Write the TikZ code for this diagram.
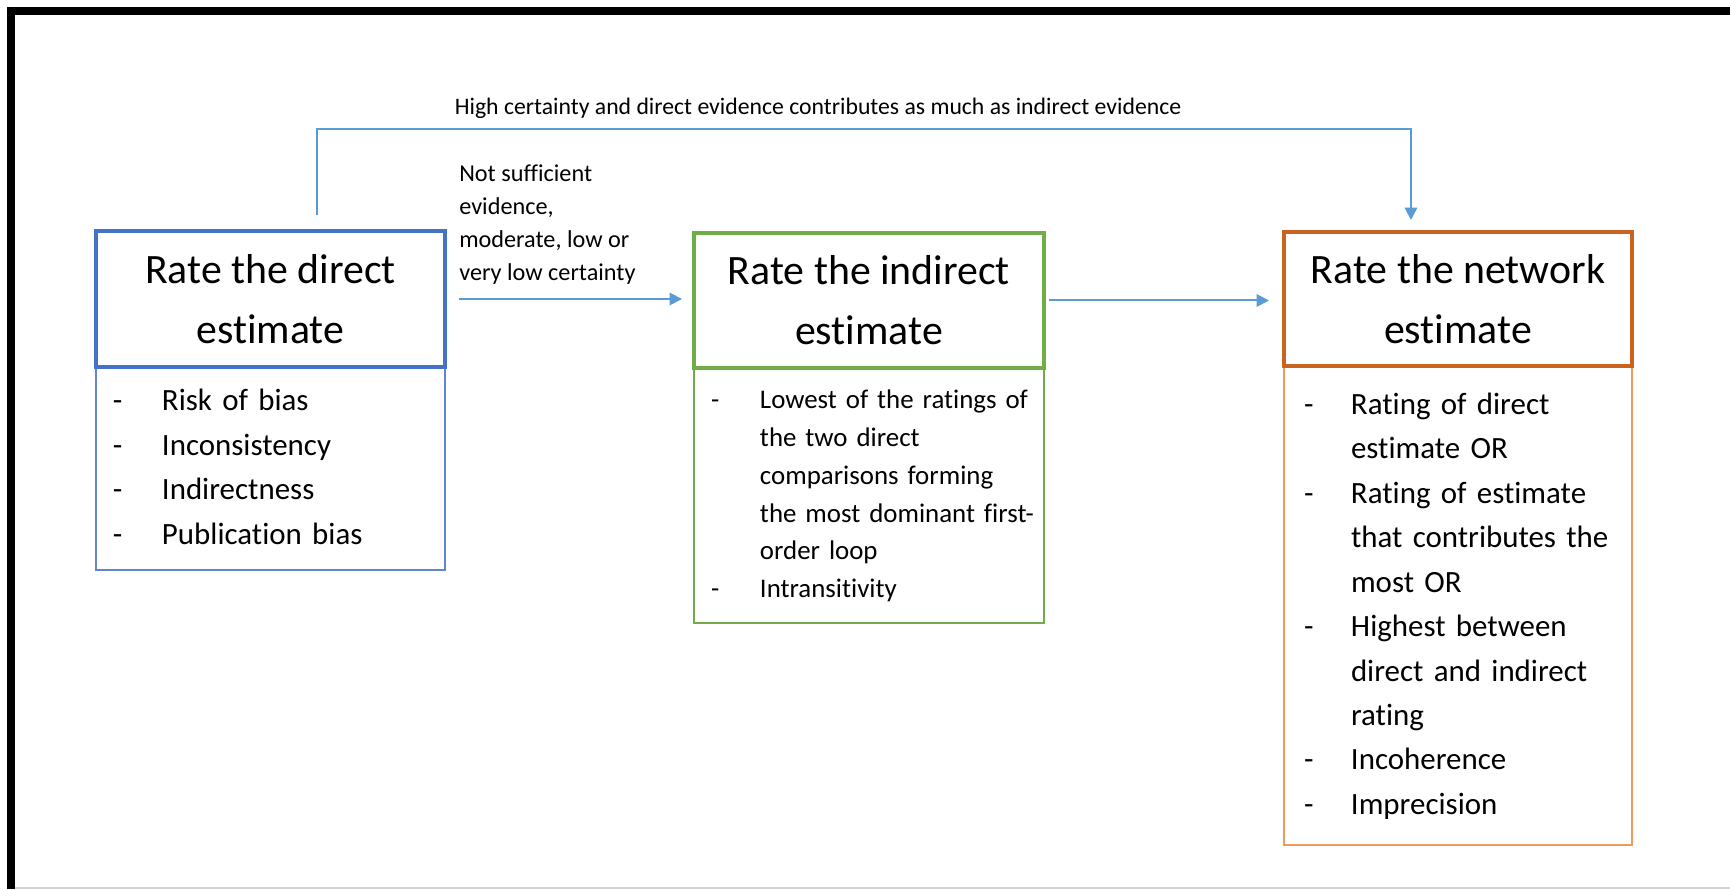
\documentclass[tikz,border=0pt]{standalone}
\usepackage{fontspec}
\setmainfont{Carlito}[Ligatures=NoCommon]
\usepackage{array}
\usetikzlibrary{
arrows.meta,
backgrounds,
calc,
positioning
}
\definecolor{dirblue}{HTML}{4472C4}
\definecolor{indgreen}{HTML}{70AD47}
\definecolor{netorange}{HTML}{C9631F}
\definecolor{netlight}{HTML}{F29A5C}
\definecolor{flowblue}{HTML}{5B9BD5}
\tikzset{>={Triangle[length=0.25cm,width=0.25cm]}}
\tikzset{
	titlebox/.style={draw=#1,line width=0.07cm,outer sep=0pt,inner sep=0pt,align=center,font=\fontsize{23.8pt}{34pt}\selectfont},
	listbox/.style={draw=#1,line width=0.045cm,outer sep=0pt,inner ysep=0pt,align=left},
	biglist/.style={font=\fontsize{17.6pt}{25.3pt}\selectfont},
	smalllist/.style={font=\fontsize{15.3pt}{21.6pt}\selectfont},
	flow/.style={->,draw=flowblue,line width=0.04cm},
	notelabel/.style={inner xsep=0pt,align=left,font=\fontsize{13.8pt}{18.8pt}\selectfont}
}

\begin{document}
\begin{tikzpicture}[x=0.02cm, y=-0.02cm]
		\useasboundingbox (0,0) rectangle (1730,889);
		% frame
		\fill[black] (7,7) rectangle (1730,15);
		\fill[black] (7,7) rectangle (15,889);
		\draw[gray!35,line width=0.04cm] (15,888) -- (1730,888);

		\node[titlebox=dirblue,minimum width=6.98cm,minimum height=2.72cm,anchor=north west] (dirtitle) at (96,231) {Rate the direct\\estimate};
		\node[titlebox=indgreen,minimum width=7.0cm,minimum height=2.70cm,anchor=north west] (indtitle) at (694,233) {Rate the indirect\\estimate};
		\node[titlebox=netorange,minimum width=6.96cm,minimum height=2.68cm,anchor=north west] (nettitle) at (1284,232) {Rate the network\\estimate};

		\begin{scope}[on background layer]
		\node[listbox=dirblue!85!white,biglist,inner xsep=0.34cm,text width=6.30cm,minimum height=4.06cm,below=0pt of dirtitle] (dirlist) {%
			\begin{tabular}{@{}p{0.98cm}@{}l@{}}
			- & Risk of bias\\
			- & Inconsistency\\
			- & Indirectness\\
			- & Publication bias
			\end{tabular}};
		\node[listbox=indgreen,smalllist,inner xsep=0.34cm,text width=6.32cm,minimum height=5.10cm,below=0pt of indtitle] (indlist) {%
			\begin{tabular}{@{}p{0.98cm}@{}l@{}}
			- & Lowest of the ratings of\\
			  & the two direct\\
			  & comparisons forming\\
			  & the most dominant first-\\
			  & order loop\\
			- & Intransitivity
			\end{tabular}};
		\node[listbox=netlight,biglist,inner xsep=0.40cm,text width=6.16cm,minimum height=9.58cm,below=0pt of nettitle] (netlist) {%
			\begin{tabular}{@{}p{0.94cm}@{}l@{}}
			- & Rating of direct\\
			  & estimate OR\\
			- & Rating of estimate\\
			  & that contributes the\\
			  & most OR\\
			- & Highest between\\
			  & direct and indirect\\
			  & rating\\
			- & Incoherence\\
			- & Imprecision
			\end{tabular}};
		\end{scope}

		\draw[flow,shorten <=0.28cm,shorten >=0.24cm] (dirtitle.east) -- (dirtitle.east -| indtitle.west);
		\node[notelabel,inner ysep=0pt,above right=0.28cm and 0.28cm of dirtitle.east] (suffnote) {Not sufficient\\evidence,\\moderate, low or\\very low certainty};
		\draw[flow,shorten <=0.1cm,shorten >=0.3cm] (indtitle.east) -- (indtitle.east -| nettitle.west);

		% high certainty shortcut
		\coordinate (dirup) at ([xshift=0.93cm]dirtitle.north);
		\coordinate (netup) at ([xshift=-0.94cm]nettitle.north);
		\coordinate (topline) at (0,129);
		\draw[flow,shorten <=0.32cm,shorten >=0.24cm] (dirup) -- (dirup |- topline) -- node[pos=0.458,above,inner xsep=0pt,inner ysep=0.18cm,font=\fontsize{13.5pt}{16pt}\selectfont] (highnote) {High certainty and direct evidence contributes as much as indirect evidence} (netup |- topline) -- (netup);
	\end{tikzpicture}
\end{document}
